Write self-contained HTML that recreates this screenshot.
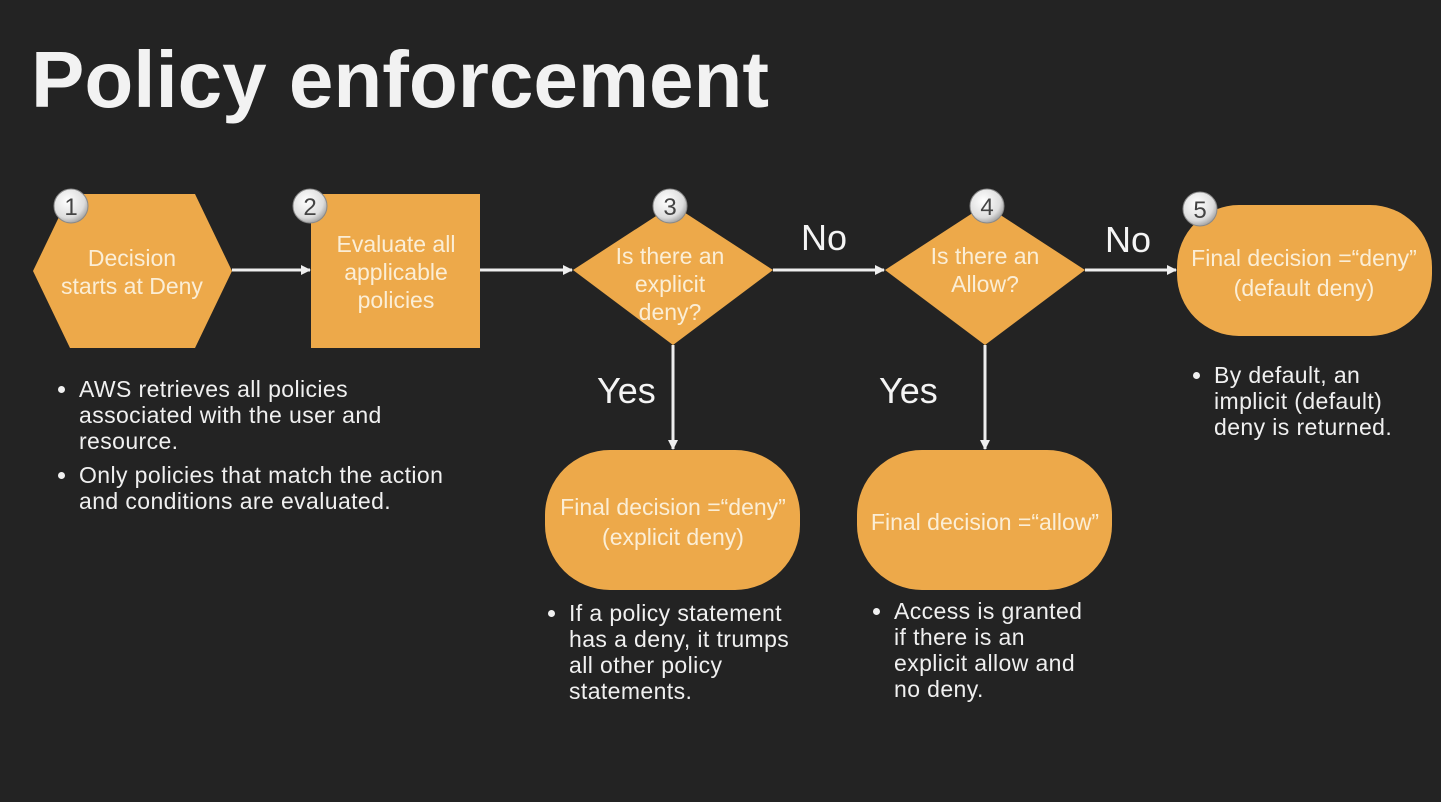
<!DOCTYPE html>
<html><head><meta charset="utf-8"><style>
body{margin:0;background:#232323;width:1441px;height:802px;overflow:hidden;font-family:"Liberation Sans",sans-serif;}
.t{position:absolute;color:#fff;}
ul{position:absolute;margin:0;padding:0 0 0 28px;color:#f0f0f0;font-size:23px;letter-spacing:0.4px;line-height:26px;white-space:nowrap;}
li{margin-bottom:8px;}
</style></head><body>
<div class="t" style="left:31px;top:34px;font-size:80px;font-weight:bold;color:#f2f2f2;">Policy enforcement</div>
<svg width="1441" height="802" style="position:absolute;left:0;top:0" font-family="Liberation Sans, sans-serif">
<defs>
<marker id="a" markerWidth="10" markerHeight="10" refX="9" refY="5" orient="auto" markerUnits="userSpaceOnUse"><path d="M0,0 L10,5 L0,10 z" fill="#eee"/></marker>
<radialGradient id="c" cx="40%" cy="35%" r="70%"><stop offset="0" stop-color="#fff"/><stop offset="0.7" stop-color="#ddd"/><stop offset="1" stop-color="#999"/></radialGradient>
</defs>
<g fill="#eda94a">
<polygon points="33,271 70,194 195,194 232,271 195,348 70,348"/>
<rect x="311" y="194" width="169" height="154"/>
<polygon points="573,270 673,205 773,270 673,345"/>
<polygon points="885,270 985,205 1085,270 985,345"/>
<rect x="1177" y="205" width="255" height="131" rx="62"/>
<rect x="545" y="450" width="255" height="140" rx="65"/>
<rect x="857" y="450" width="255" height="140" rx="65"/>
</g>
<g stroke="#eee" stroke-width="3" marker-end="url(#a)">
<line x1="232" y1="270" x2="310" y2="270"/>
<line x1="480" y1="270" x2="572" y2="270"/>
<line x1="773" y1="270" x2="884" y2="270"/>
<line x1="1085" y1="270" x2="1176" y2="270"/>
<line x1="673" y1="345" x2="673" y2="449"/>
<line x1="985" y1="345" x2="985" y2="449"/>
</g>
<g fill="url(#c)" stroke="#888" stroke-width="1">
<circle cx="71" cy="206" r="17"/><circle cx="310" cy="206" r="17"/><circle cx="670" cy="206" r="17"/><circle cx="987" cy="206" r="17"/><circle cx="1200" cy="209" r="17"/>
</g>
<g fill="#444" font-size="24" text-anchor="middle">
<text x="71" y="215">1</text><text x="310" y="215">2</text><text x="670" y="215">3</text><text x="987" y="215">4</text><text x="1200" y="218">5</text>
</g>
<g fill="#fbeed6" font-size="23" text-anchor="middle">
<text x="132" y="266">Decision</text><text x="132" y="294">starts at Deny</text>
<text x="396" y="252">Evaluate all</text><text x="396" y="280">applicable</text><text x="396" y="308">policies</text>
<text x="670" y="264">Is there an</text><text x="670" y="292">explicit</text><text x="670" y="320">deny?</text>
<text x="985" y="264">Is there an</text><text x="985" y="292">Allow?</text>
<text x="1304" y="266">Final decision =“deny”</text><text x="1304" y="296">(default deny)</text>
<text x="673" y="515">Final decision =“deny”</text><text x="673" y="545">(explicit deny)</text>
<text x="985" y="530">Final decision =“allow”</text>
</g>
<g fill="#f4f4f4" font-size="36">
<text x="801" y="250">No</text><text x="1105" y="252">No</text>
<text x="597" y="403">Yes</text><text x="879" y="403">Yes</text>
</g>
</svg>
<ul style="left:51px;top:376px;"><li>AWS retrieves all policies<br>associated with the user and<br>resource.</li><li>Only policies that match the action<br>and conditions are evaluated.</li></ul>
<ul style="left:541px;top:600px;"><li>If a policy statement<br>has a deny, it trumps<br>all other policy<br>statements.</li></ul>
<ul style="left:866px;top:598px;"><li>Access is granted<br>if there is an<br>explicit allow and<br>no deny.</li></ul>
<ul style="left:1186px;top:362px;"><li>By default, an<br>implicit (default)<br>deny is returned.</li></ul>
</body></html>
